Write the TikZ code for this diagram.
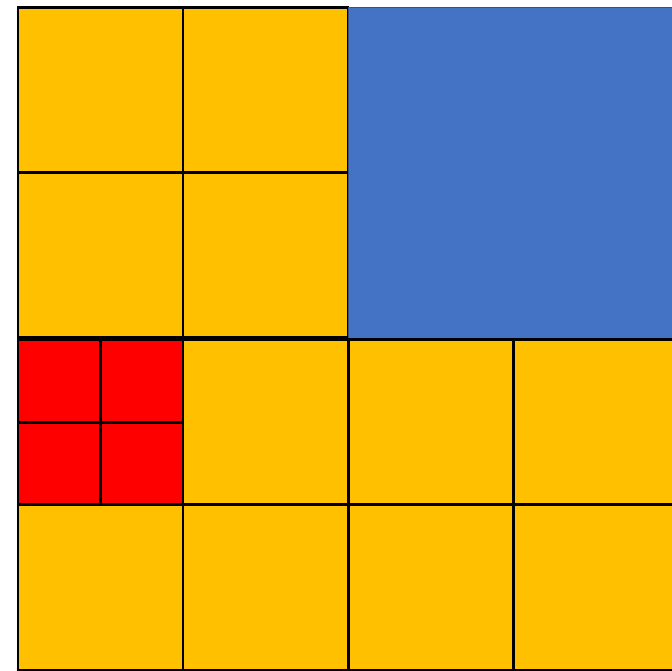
\documentclass[tikz,border=0pt]{standalone}
\usepackage{tikz}
\usetikzlibrary{positioning}
\definecolor{gridorange}{HTML}{FFC000}
\definecolor{gridblue}{HTML}{4472C4}
\definecolor{gridblueedge}{HTML}{2F528F}
\definecolor{gridred}{HTML}{FF0000}
\begin{document}
\begin{tikzpicture}[x=1pt, y=-1pt,
        cell/.style={draw=black, line width=2.2pt, fill=gridorange, minimum size=165pt, inner sep=0pt, outer sep=0pt},
        quad/.style={cell, fill=gridred, line width=2.8pt, minimum size=82.5pt},
        block/.style={draw=gridblueedge, line width=1pt, fill=gridblue, minimum width=332pt, minimum height=330pt, inner sep=0pt, outer sep=0pt}]
      \useasboundingbox (0,0) rectangle (672,671);
      % upper left quarter
      \node[cell] (a11) at (100.5,90) {};
      \node[cell] (a12) at (265.5,90) {};
      \node[cell] (a21) at (100.5,255) {};
      \node[cell] (a22) at (265.5,255) {};
      % upper right block
      \node[block] (b) at (514,173) {};
      % third row
      \node[quad] (r11) at (59.25,381) {};
      \node[quad] (r12) at (141.75,381) {};
      \node[quad] (r21) at (59.25,463.5) {};
      \node[quad] (r22) at (141.75,463.5) {};
      \node[cell] (a32) at (265.5,422) {};
      \node[cell] (a33) at (431,422) {};
      \node[cell] (a34) at (596.5,422) {};
      % bottom row
      \node[cell] (a41) at (100.5,587.5) {};
      \node[cell] (a42) at (265.5,587.5) {};
      \node[cell] (a43) at (431,587.5) {};
      \node[cell] (a44) at (596.5,587.5) {};
    \end{tikzpicture}
\end{document}
